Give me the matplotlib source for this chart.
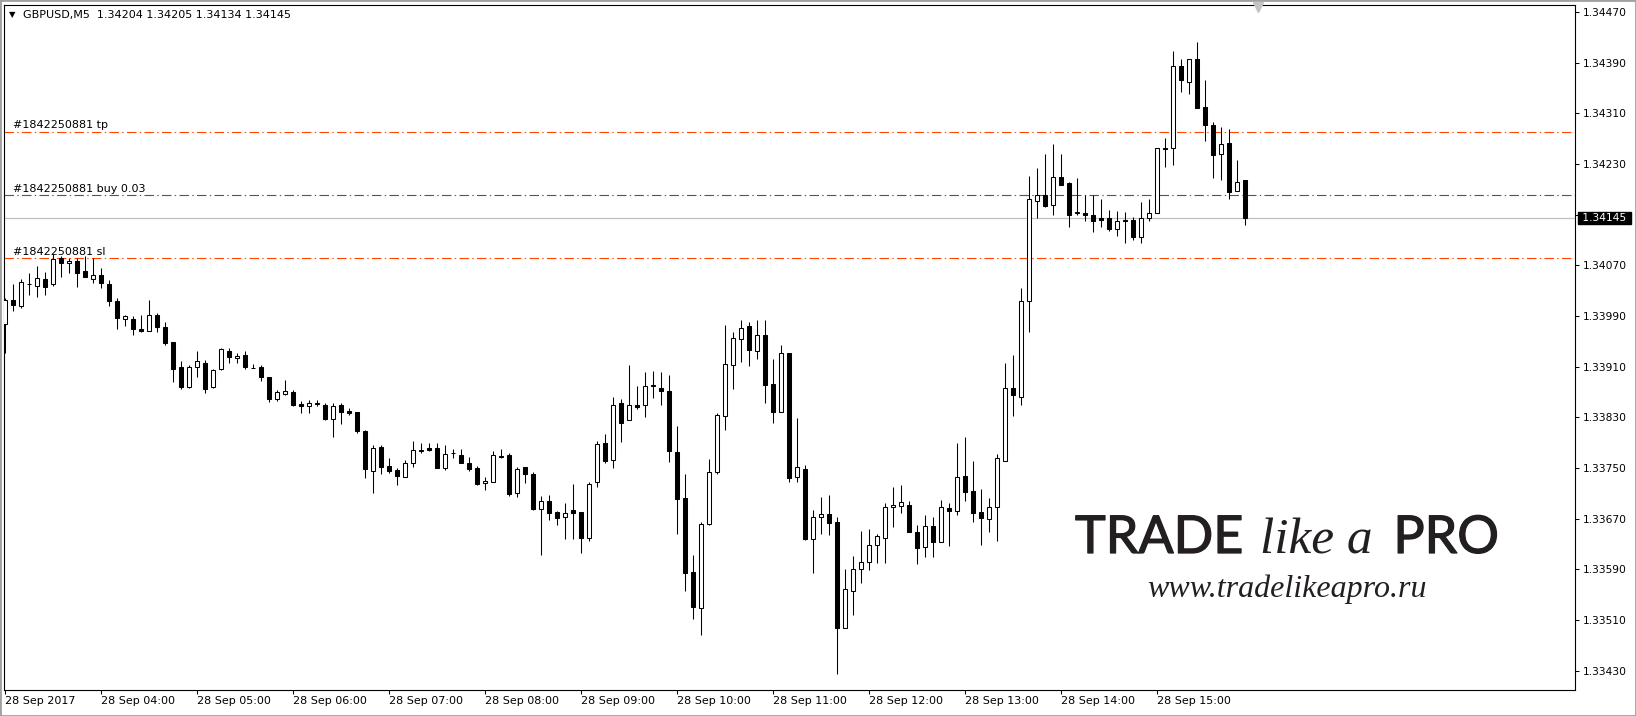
import numpy as np
import pandas as pd
import matplotlib
matplotlib.use("Agg")
import matplotlib.pyplot as plt
import matplotlib.transforms as mtransforms
import matplotlib.patheffects as pe
from matplotlib.patches import Rectangle
from matplotlib.lines import Line2D

plt.rcParams['font.family'] = ['DejaVu Sans']
plt.rcParams['lines.scale_dashes'] = False

symbol = "GBPUSD"
timeframe = "M5"

# 5 minute bars, 28 Sep 2017 03:00 .. 15:55
opens = [1.33978, 1.34015, 1.34005, 1.34040, 1.34038, 1.34048, 1.34040, 1.34081, 1.34073, 1.34077,
         1.34061, 1.34049, 1.34054, 1.34041, 1.34014, 1.33986, 1.33985, 1.33969, 1.33967, 1.33992,
         1.33972, 1.33949, 1.33910, 1.33878, 1.33909, 1.33915, 1.33878, 1.33906, 1.33935, 1.33923,
         1.33928, 1.33908, 1.33910, 1.33894, 1.33859, 1.33866, 1.33870, 1.33851, 1.33848, 1.33851,
         1.33850, 1.33827, 1.33850, 1.33840, 1.33838, 1.33809, 1.33745, 1.33783, 1.33753, 1.33746,
         1.33736, 1.33757, 1.33776, 1.33781, 1.33781, 1.33750, 1.33773, 1.33770, 1.33758, 1.33750,
         1.33726, 1.33728, 1.33768, 1.33770, 1.33711, 1.33751, 1.33740, 1.33685, 1.33697, 1.33680,
         1.33672, 1.33683, 1.33680, 1.33639, 1.33727, 1.33790, 1.33762, 1.33852, 1.33825, 1.33850,
         1.33849, 1.33880, 1.33877, 1.33871, 1.33775, 1.33702, 1.33585, 1.33528, 1.33662, 1.33743,
         1.33832, 1.33912, 1.33953, 1.33974, 1.33935, 1.33960, 1.33882, 1.33838, 1.33931, 1.33736,
         1.33749, 1.33638, 1.33673, 1.33678, 1.33664, 1.33497, 1.33555, 1.33590, 1.33602, 1.33629,
         1.33640, 1.33688, 1.33690, 1.33691, 1.33649, 1.33625, 1.33659, 1.33633, 1.33686, 1.33682,
         1.33738, 1.33714, 1.33680, 1.33669, 1.33688, 1.33761, 1.33877, 1.33862, 1.34013, 1.34171,
         1.34181, 1.34166, 1.34210, 1.34200, 1.34152, 1.34152, 1.34149, 1.34144, 1.34145, 1.34128,
         1.34142, 1.34142, 1.34114, 1.34144, 1.34152, 1.34256, 1.34255, 1.34385, 1.34359, 1.34396,
         1.34320, 1.34292, 1.34246, 1.34264, 1.34187, 1.34204]
highs = [1.34018, 1.34041, 1.34048, 1.34058, 1.34069, 1.34059, 1.34088, 1.34084, 1.34081, 1.34081,
         1.34084, 1.34081, 1.34065, 1.34047, 1.34019, 1.33992, 1.33990, 1.33992, 1.34016, 1.33994,
         1.33981, 1.33949, 1.33919, 1.33912, 1.33935, 1.33920, 1.33907, 1.33939, 1.33939, 1.33931,
         1.33935, 1.33914, 1.33912, 1.33894, 1.33873, 1.33889, 1.33873, 1.33855, 1.33858, 1.33858,
         1.33852, 1.33852, 1.33852, 1.33844, 1.33838, 1.33810, 1.33786, 1.33786, 1.33765, 1.33750,
         1.33762, 1.33792, 1.33790, 1.33790, 1.33789, 1.33786, 1.33780, 1.33780, 1.33768, 1.33753,
         1.33735, 1.33777, 1.33780, 1.33774, 1.33752, 1.33751, 1.33744, 1.33706, 1.33708, 1.33682,
         1.33694, 1.33724, 1.33680, 1.33728, 1.33792, 1.33804, 1.33862, 1.33859, 1.33912, 1.33879,
         1.33901, 1.33903, 1.33902, 1.33896, 1.33816, 1.33740, 1.33612, 1.33664, 1.33764, 1.33836,
         1.33976, 1.33964, 1.33984, 1.33980, 1.33984, 1.33984, 1.33922, 1.33944, 1.33931, 1.33829,
         1.33754, 1.33683, 1.33704, 1.33708, 1.33672, 1.33591, 1.33611, 1.33650, 1.33653, 1.33645,
         1.33694, 1.33720, 1.33723, 1.33698, 1.33660, 1.33676, 1.33672, 1.33699, 1.33694, 1.33789,
         1.33799, 1.33761, 1.33716, 1.33703, 1.33772, 1.33916, 1.33929, 1.34034, 1.34211, 1.34223,
         1.34246, 1.34262, 1.34246, 1.34201, 1.34208, 1.34181, 1.34181, 1.34175, 1.34157, 1.34156,
         1.34155, 1.34147, 1.34170, 1.34175, 1.34255, 1.34271, 1.34409, 1.34396, 1.34396, 1.34422,
         1.34363, 1.34296, 1.34289, 1.34286, 1.34236, 1.34205]
lows = [1.33932, 1.33998, 1.34002, 1.34023, 1.34020, 1.34023, 1.34037, 1.34051, 1.34058, 1.34035,
        1.34052, 1.34042, 1.34034, 1.34006, 1.33969, 1.33974, 1.33960, 1.33964, 1.33966, 1.33964,
        1.33944, 1.33885, 1.33874, 1.33876, 1.33893, 1.33869, 1.33876, 1.33905, 1.33915, 1.33915,
        1.33906, 1.33908, 1.33888, 1.33854, 1.33856, 1.33865, 1.33848, 1.33837, 1.33837, 1.33848,
        1.33825, 1.33799, 1.33820, 1.33833, 1.33805, 1.33734, 1.33710, 1.33741, 1.33742, 1.33723,
        1.33735, 1.33751, 1.33774, 1.33776, 1.33750, 1.33747, 1.33765, 1.33757, 1.33745, 1.33723,
        1.33715, 1.33727, 1.33765, 1.33706, 1.33704, 1.33726, 1.33684, 1.33612, 1.33668, 1.33660,
        1.33638, 1.33637, 1.33616, 1.33634, 1.33720, 1.33757, 1.33750, 1.33791, 1.33825, 1.33843,
        1.33831, 1.33861, 1.33849, 1.33760, 1.33645, 1.33556, 1.33511, 1.33486, 1.33660, 1.33741,
        1.33810, 1.33875, 1.33917, 1.33911, 1.33922, 1.33853, 1.33821, 1.33838, 1.33728, 1.33727,
        1.33636, 1.33584, 1.33645, 1.33644, 1.33425, 1.33497, 1.33517, 1.33569, 1.33589, 1.33600,
        1.33600, 1.33656, 1.33679, 1.33648, 1.33599, 1.33610, 1.33610, 1.33633, 1.33626, 1.33675,
        1.33698, 1.33665, 1.33628, 1.33649, 1.33635, 1.33761, 1.33832, 1.33849, 1.33964, 1.34145,
        1.34162, 1.34149, 1.34197, 1.34131, 1.34149, 1.34140, 1.34122, 1.34130, 1.34125, 1.34117,
        1.34106, 1.34110, 1.34106, 1.34140, 1.34152, 1.34226, 1.34229, 1.34344, 1.34340, 1.34319,
        1.34267, 1.34208, 1.34204, 1.34175, 1.34187, 1.34134]
closes = [1.34016, 1.34008, 1.34043, 1.34041, 1.34050, 1.34035, 1.34080, 1.34073, 1.34077, 1.34058,
          1.34052, 1.34054, 1.34042, 1.34013, 1.33987, 1.33990, 1.33969, 1.33967, 1.33992, 1.33972,
          1.33948, 1.33907, 1.33878, 1.33910, 1.33919, 1.33875, 1.33905, 1.33938, 1.33925, 1.33927,
          1.33909, 1.33908, 1.33893, 1.33859, 1.33870, 1.33871, 1.33850, 1.33848, 1.33853, 1.33852,
          1.33827, 1.33848, 1.33839, 1.33837, 1.33809, 1.33748, 1.33781, 1.33752, 1.33745, 1.33737,
          1.33757, 1.33778, 1.33779, 1.33778, 1.33750, 1.33772, 1.33773, 1.33757, 1.33748, 1.33725,
          1.33729, 1.33770, 1.33769, 1.33709, 1.33749, 1.33741, 1.33685, 1.33697, 1.33679, 1.33671,
          1.33679, 1.33679, 1.33640, 1.33724, 1.33787, 1.33761, 1.33850, 1.33821, 1.33850, 1.33847,
          1.33880, 1.33881, 1.33871, 1.33776, 1.33701, 1.33584, 1.33530, 1.33662, 1.33744, 1.33833,
          1.33914, 1.33955, 1.33971, 1.33937, 1.33960, 1.33881, 1.33838, 1.33931, 1.33734, 1.33751,
          1.33637, 1.33673, 1.33678, 1.33663, 1.33497, 1.33558, 1.33590, 1.33602, 1.33629, 1.33642,
          1.33688, 1.33692, 1.33696, 1.33648, 1.33624, 1.33659, 1.33633, 1.33688, 1.33682, 1.33736,
          1.33712, 1.33679, 1.33671, 1.33688, 1.33765, 1.33877, 1.33865, 1.34014, 1.34174, 1.34181,
          1.34164, 1.34210, 1.34197, 1.34150, 1.34155, 1.34150, 1.34140, 1.34141, 1.34128, 1.34140,
          1.34140, 1.34114, 1.34144, 1.34152, 1.34255, 1.34254, 1.34385, 1.34362, 1.34396, 1.34319,
          1.34291, 1.34245, 1.34262, 1.34186, 1.34202, 1.34145]

order_id = "1842250881"
order_lots = "0.03"
tp_price = 1.34281
entry_price = 1.34181
sl_price = 1.34081

price_ticks = [1.33430, 1.33510, 1.33590, 1.33670, 1.33750, 1.33830, 1.33910,
               1.33990, 1.34070, 1.34150, 1.34230, 1.34310, 1.34390, 1.34470]

bar_times = pd.date_range("2017-09-28 03:00", periods=len(opens), freq="5min")

W, H = 1636, 716
fig = plt.figure(figsize=(W / 100, H / 100), dpi=100)
fig.patch.set_facecolor('white')
ax = fig.add_axes([4 / W, 26.5 / H, 1570.5 / W, 685 / H])

x = np.arange(len(opens))
o = np.array(opens)
h = np.array(highs)
l = np.array(lows)
c = np.array(closes)
up = c >= o

# trade levels and bid line
dd = (0, (6.8, 2.4, 1.0, 2.4))
ax.axhline(tp_price, color='#ff4500', lw=0.8, ls=dd, zorder=1)
ax.axhline(entry_price, color='#1e7d1e', lw=0.8, ls=dd, zorder=1)
ax.axhline(sl_price, color='#ff4500', lw=0.8, ls=dd, zorder=1)
ax.axhline(closes[-1], color='#c0c0c0', lw=0.9, zorder=1)

# candles
ax.vlines(x, l, h, color='black', linewidth=0.75, zorder=2)
ax.bar(x, np.abs(c - o), bottom=np.minimum(o, c), width=0.5,
       color=np.where(up, 'white', 'black'), edgecolor='black',
       linewidth=0.75, zorder=3)

ax.set_xlim(-0.1625, 196.15)
ax.set_ylim(1.33400, 1.34482)

for s in ax.spines.values():
    s.set_color('black')
    s.set_linewidth(0.8)

# price scale; the label under the bid tag is hidden in the terminal
ax.yaxis.tick_right()
ax.set_yticks(price_ticks)
ax.set_yticklabels(["" if abs(p - closes[-1]) < 0.0001 else f"{p:.5f}" for p in price_ticks])
ax.tick_params(axis='y', length=3, width=0.75, pad=3, labelsize=7.7, colors='black')

hour_idx = [i for i, t in enumerate(bar_times) if t.minute == 0]
xlabels = []
for i in hour_idx:
    t = bar_times[i]
    xlabels.append(t.strftime("%d %b %Y") if i == 0 else t.strftime("%d %b %H:%M"))
ax.set_xticks(hour_idx)
ax.set_xticklabels(xlabels)
ax.tick_params(axis='x', length=3, width=0.75, pad=2, labelsize=8, colors='black')
plt.setp(ax.get_xticklabels(), ha='left')

# order labels
bt = mtransforms.blended_transform_factory(ax.transAxes, ax.transData)
for price, txt in [(tp_price, f"#{order_id} tp"),
                   (entry_price, f"#{order_id} buy {order_lots}"),
                   (sl_price, f"#{order_id} sl")]:
    ax.annotate(txt, xy=(9.3 / 1570.5, price), xycoords=bt, xytext=(0, 1),
                textcoords='offset points', ha='left', va='bottom', fontsize=8)

# current price tag
ax.annotate(f" {closes[-1]:.5f} ", xy=(1, closes[-1]), xycoords=bt, xytext=(4.5, 0),
            textcoords='offset pixels', ha='left', va='center', fontsize=7.7,
            color='white', annotation_clip=False, zorder=5,
            bbox=dict(boxstyle='square,pad=0.12', fc='black', ec='black'))

# header
fig.text(12.5 / W, 1 - 14.5 / H, "\u25bc", fontsize=6, ha='center', va='center')
fig.text(23 / W, 1 - 15 / H,
         f"{symbol},{timeframe}  {opens[-1]:.5f} {highs[-1]:.5f} {lows[-1]:.5f} {closes[-1]:.5f}",
         fontsize=8, ha='left', va='center')

# chart shift marker
fig.add_artist(Line2D([1258 / W], [1 - 7 / H], marker='v', markersize=7,
                      color='#c4c4c4', transform=fig.transFigure))

# watermark
ink = '#231f20'
thick = [pe.withStroke(linewidth=0.9, foreground=ink)]
fig.text(1075 / W, 1 - 553 / H, "TRADE", family='Lato', fontsize=37.5, color=ink,
         ha='left', va='baseline', path_effects=thick)
fig.text(1260 / W, 1 - 553 / H, "like a", family='Liberation Serif', style='italic',
         fontsize=37, color=ink, ha='left', va='baseline')
fig.text(1499 / W, 1 - 553 / H, "PRO", family='Lato', fontsize=37.5, color=ink,
         ha='right', va='baseline', path_effects=thick)
fig.text(1287 / W, 1 - 597 / H, "www.tradelikeapro.ru", family='Liberation Serif',
         style='italic', fontsize=23, color=ink, ha='center', va='baseline')

fig.add_artist(Rectangle((0, 0), 1, 1, transform=fig.transFigure, fill=False,
                         ec='#a0a0a0', lw=2))

fig.savefig('out.png', dpi=100)
